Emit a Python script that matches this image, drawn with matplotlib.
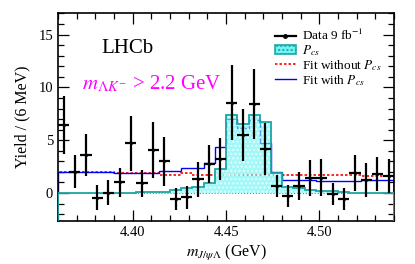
# Pcs search plot: J/psi Lambda mass, m(Lambda K-) > 2.2 GeV
import matplotlib
matplotlib.use('Agg')
import matplotlib.pyplot as plt
from matplotlib.lines import Line2D
from matplotlib.patches import Patch
from matplotlib.ticker import MultipleLocator
import numpy as np

plt.rcParams['font.family'] = ['Liberation Serif', 'DejaVu Serif']
plt.rcParams['mathtext.fontset'] = 'stix'

# 30 bins of 6 MeV
edges = np.linspace(4.36, 4.54, 31)
centers = 0.5 * (edges[:-1] + edges[1:])

data_y = [6.45, 2.0, 3.6, -0.45, 0.03, 1.0, 4.7, 0.9, 4.1, 3.0,
          -0.6, -0.4, 1.3, 2.75, 3.2, 8.55, 5.5, 8.4, 4.15, 0.66,
          -0.28, 0.66, 1.4, 1.45, -0.1, -0.6, 1.87, 1.23, 1.8, 1.64]
data_err = [2.75, 1.55, 2.0, 1.2, 1.2, 1.35, 2.6, 1.3, 2.65, 2.3,
            1.05, 1.1, 1.65, 1.8, 2.0, 3.55, 2.45, 3.3, 2.45, 1.05,
            1.0, 1.35, 1.7, 1.75, 1.0, 1.05, 1.7, 1.65, 1.65, 1.6]

pcs = [0.02, 0.02, 0.02, 0.02, 0.03, 0.03, 0.04, 0.05, 0.06, 0.08,
       0.25, 0.45, 0.55, 0.92, 2.3, 7.4, 6.55, 7.4, 6.75, 1.87,
       0.6, 0.5, 0.25, 0.2, 0.2, 0.08, 0.04, 0.03, 0.03, 0.03]

fit_with = [2.0, 2.0, 2.0, 2.0, 2.0, 1.87, 1.87, 1.87, 1.87, 2.1,
            2.08, 2.34, 2.34, 2.8, 4.4, 7.0, 6.2, 6.9, 4.77, 2.0,
            1.25, 1.2, 1.2, 1.15, 1.15, 1.15, 1.15, 1.2, 1.2, 1.2]

fit_without = [1.96, 1.96, 1.96, 1.96, 1.96, 1.87, 1.87, 1.87, 1.87, 1.75,
               1.7, 1.92, 1.7, 1.7, 1.7, 1.68, 1.68, 1.68, 1.68, 1.7,
               1.7, 1.7, 1.7, 1.7, 1.7, 1.7, 1.7, 1.6, 1.6, 1.6]

ylo, yhi = -2.65, 17.05

fig = plt.figure(figsize=(4.15, 2.64), dpi=100)
ax = fig.add_axes([0.1398, 0.163, 0.81, 0.788])

ax.axhline(0, color='grey', ls=':', lw=0.8, zorder=1)

# fits
ax.stairs(fit_without, edges, baseline=0, color='red', ls=(0, (1.5, 1.2)), lw=1.2, zorder=2)
ax.stairs(fit_with, edges, baseline=0, color='blue', lw=1.0, zorder=2)

# Pcs component
ax.stairs(pcs, edges, baseline=0, fill=True, color='#70f4f4', alpha=0.65, lw=0, zorder=3)
ax.stairs(pcs, edges, baseline=0, fill=True, facecolor='none', edgecolor='#e6ffff',
          hatch='....', lw=0, zorder=3)
ax.stairs(pcs, edges, baseline=ylo, color='#1fa5a5', lw=1.3, zorder=4)

# data
ax.errorbar(centers, data_y, yerr=data_err, xerr=0.003, fmt='o', ms=1.2,
            color='black', ecolor='black', elinewidth=1.6, capsize=0, zorder=5)

ax.set_xlim(4.36, 4.54)
ax.set_ylim(ylo, yhi)
ax.xaxis.set_major_locator(MultipleLocator(0.05))
ax.xaxis.set_minor_locator(MultipleLocator(0.01))
ax.yaxis.set_major_locator(MultipleLocator(5))
ax.yaxis.set_minor_locator(MultipleLocator(1))
ax.xaxis.set_major_formatter(matplotlib.ticker.FormatStrFormatter('%.2f'))
ax.tick_params(which='both', direction='in', top=True, right=True, labelsize=10.5, width=0.9)
ax.tick_params(which='major', length=8)
ax.tick_params(which='minor', length=4)
for s in ax.spines.values():
    s.set_linewidth(1.2)

ax.set_xlabel(r'$m_{J/\psi\Lambda}$ (GeV)', fontsize=11.5, labelpad=3)
ax.set_ylabel('Yield / (6 MeV)', fontsize=11.5, labelpad=6)

ax.text(0.13, 0.83, 'LHCb', transform=ax.transAxes, fontsize=15, va='center')
ax.text(0.07, 0.66, r'$m_{\Lambda K^{-}}$ > 2.2 GeV', transform=ax.transAxes,
        fontsize=15, color='magenta', va='center')

handles = [
    Line2D([], [], color='black', lw=1.6, marker='o', ms=2.5),
    Patch(facecolor='#70f4f4', edgecolor='#1fa5a5', hatch='....', lw=1.2),
    Line2D([], [], color='red', ls=(0, (1.5, 1.2)), lw=1.2),
    Line2D([], [], color='blue', lw=1.0),
]
labels = [r'Data 9 fb$^{-1}$', r'$P_{cs}$', r'Fit without $P_{cs}$', r'Fit with $P_{cs}$']
ax.legend(handles, labels, loc='upper right', bbox_to_anchor=(0.985, 0.965), frameon=False,
          fontsize=9.5, handlelength=1.6, handletextpad=0.45, labelspacing=0.0,
          borderaxespad=0.2)

fig.savefig('out.png', dpi=100)
